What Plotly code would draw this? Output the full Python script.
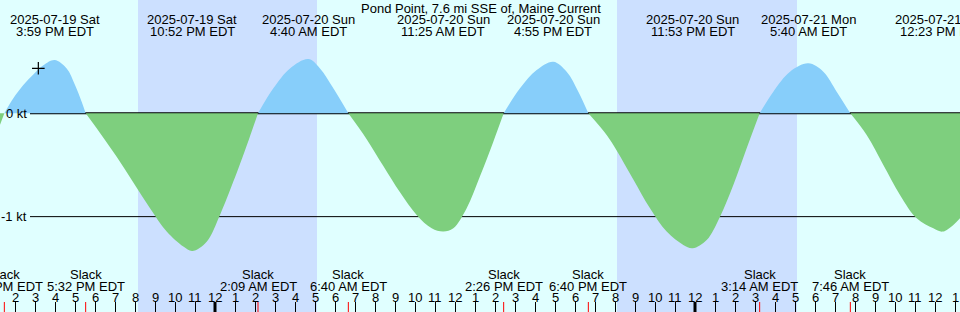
import plotly.graph_objects as go

TITLE = "Pond Point, 7.6 mi SSE of, Maine Current"
X_START = "2025-07-19 13:15"
X_END = "2025-07-21 13:15"
Y_RANGE = [-1.923, 1.097]

# current speed readings (knots, + flood / - ebb)
CURVE_TIMES = [
    "2025-07-19 13:15", "2025-07-19 13:28", "2025-07-19 13:55", "2025-07-19 14:25",
    "2025-07-19 14:55", "2025-07-19 15:25", "2025-07-19 15:59", "2025-07-19 16:35",
    "2025-07-19 17:00", "2025-07-19 17:20", "2025-07-19 17:32", "2025-07-19 18:15",
    "2025-07-19 19:05", "2025-07-19 19:55", "2025-07-19 20:45", "2025-07-19 21:35",
    "2025-07-19 22:25", "2025-07-19 22:52", "2025-07-19 23:35", "2025-07-20 00:15",
    "2025-07-20 00:55", "2025-07-20 01:15", "2025-07-20 01:42", "2025-07-20 02:09",
    "2025-07-20 02:55", "2025-07-20 03:45", "2025-07-20 04:40", "2025-07-20 05:15",
    "2025-07-20 05:55", "2025-07-20 06:40", "2025-07-20 07:35", "2025-07-20 08:25",
    "2025-07-20 09:15", "2025-07-20 10:05", "2025-07-20 10:50", "2025-07-20 11:25",
    "2025-07-20 11:55", "2025-07-20 12:35", "2025-07-20 13:15", "2025-07-20 13:55",
    "2025-07-20 14:26", "2025-07-20 15:15", "2025-07-20 16:05", "2025-07-20 16:55",
    "2025-07-20 17:35", "2025-07-20 18:10", "2025-07-20 18:40", "2025-07-20 19:35",
    "2025-07-20 20:05", "2025-07-20 20:55", "2025-07-20 21:45", "2025-07-20 22:35",
    "2025-07-20 23:25", "2025-07-20 23:53", "2025-07-21 00:35", "2025-07-21 01:15",
    "2025-07-21 01:55", "2025-07-21 02:35", "2025-07-21 03:14", "2025-07-21 03:55",
    "2025-07-21 04:45", "2025-07-21 05:40", "2025-07-21 06:25", "2025-07-21 07:05",
    "2025-07-21 07:46", "2025-07-21 08:35", "2025-07-21 09:25", "2025-07-21 10:15",
    "2025-07-21 11:05", "2025-07-21 11:55", "2025-07-21 12:23", "2025-07-21 12:55",
    "2025-07-21 13:15",
]
CURVE_KT = [
    -0.11, 0.0, 0.145, 0.274,
    0.375, 0.465, 0.516, 0.435,
    0.274, 0.113, 0.0, -0.19,
    -0.42, -0.67, -0.919, -1.145,
    -1.29, -1.332, -1.242, -0.984,
    -0.661, -0.49, -0.25, 0.0,
    0.242, 0.435, 0.526, 0.435,
    0.242, 0.0, -0.25, -0.51,
    -0.765, -0.984, -1.113, -1.145,
    -1.113, -0.919, -0.61, -0.274,
    0.0, 0.242, 0.419, 0.50,
    0.403, 0.21, 0.0, -0.21,
    -0.36, -0.64, -0.919, -1.145,
    -1.274, -1.306, -1.226, -1.0,
    -0.694, -0.339, 0.0, 0.21,
    0.403, 0.484, 0.403, 0.21,
    0.0, -0.21, -0.5, -0.79,
    -1.016, -1.113, -1.145, -1.08,
    -1.016,
]

MAX_TIMES = ["2025-07-19 15:59", "2025-07-19 22:52", "2025-07-20 04:40", "2025-07-20 11:25",
             "2025-07-20 16:55", "2025-07-20 23:53", "2025-07-21 05:40", "2025-07-21 12:23"]
MAX_DATE_LABELS = ["2025-07-19 Sat", "2025-07-19 Sat", "2025-07-20 Sun", "2025-07-20 Sun",
                   "2025-07-20 Sun", "2025-07-20 Sun", "2025-07-21 Mon", "2025-07-21 Mon"]
MAX_TIME_LABELS = ["3:59 PM EDT", "10:52 PM EDT", "4:40 AM EDT", "11:25 AM EDT",
                   "4:55 PM EDT", "11:53 PM EDT", "5:40 AM EDT", "12:23 PM EDT"]

SLACK_TIMES = ["2025-07-19 13:28", "2025-07-19 17:32", "2025-07-20 02:09", "2025-07-20 06:40",
               "2025-07-20 14:26", "2025-07-20 18:40", "2025-07-21 03:14", "2025-07-21 07:46"]
SLACK_LABELS = ["1:28 PM EDT", "5:32 PM EDT", "2:09 AM EDT", "6:40 AM EDT",
                "2:26 PM EDT", "6:40 PM EDT", "3:14 AM EDT", "7:46 AM EDT"]

NIGHT_START = ["2025-07-19 20:09", "2025-07-20 20:06"]
NIGHT_END = ["2025-07-20 05:06", "2025-07-21 05:06"]
MIDNIGHTS = ["2025-07-20 00:00", "2025-07-21 00:00"]

HOUR_TICKS = (
    [f"2025-07-19 {h:02d}:00" for h in range(14, 24)]
    + [f"2025-07-20 {h:02d}:00" for h in range(0, 24)]
    + [f"2025-07-21 {h:02d}:00" for h in range(0, 14)]
)
HOUR_LABELS = (
    ["2", "3", "4", "5", "6", "7", "8", "9", "10", "11"]
    + ["12", "1", "2", "3", "4", "5", "6", "7", "8", "9", "10", "11",
       "12", "1", "2", "3", "4", "5", "6", "7", "8", "9", "10", "11"]
    + ["12", "1", "2", "3", "4", "5", "6", "7", "8", "9", "10", "11", "12", "1"]
)

LEVEL_VALUES = [0, -1]
LEVEL_LABELS = ["0 kt", "-1 kt"]

CROSS_TIME = ["2025-07-19 15:10"]
CROSS_KT = [0.436]

DAY_BG = "#e0ffff"
NIGHT_BG = "#cce0ff"
FLOOD = "#87cefa"
EBB = "#7ecf7e"
FONT = dict(family="Liberation Sans", size=13, color="black")
H = 312.0

fig = go.Figure()

# split the curve into flood / ebb lobes at slack (zero) points
lobes = []
cur = [0]
for i in range(1, len(CURVE_KT)):
    cur.append(i)
    if CURVE_KT[i] == 0 and i != len(CURVE_KT) - 1:
        lobes.append(cur)
        cur = [i]
lobes.append(cur)

for lobe in lobes:
    xs = [CURVE_TIMES[i] for i in lobe]
    ys = [CURVE_KT[i] for i in lobe]
    positive = sum(ys) > 0
    fig.add_trace(go.Scatter(
        x=xs, y=ys, mode="lines", fill="tozeroy",
        line=dict(width=0, shape="spline", smoothing=1.0),
        fillcolor=FLOOD if positive else EBB,
        hoverinfo="skip", showlegend=False,
    ))

fig.add_trace(go.Scatter(
    x=CROSS_TIME, y=CROSS_KT, mode="markers",
    marker=dict(symbol="cross-thin", size=9, line=dict(width=1.2, color="black")),
    showlegend=False, hoverinfo="skip",
))

shapes = []
for s, e in zip(NIGHT_START, NIGHT_END):
    shapes.append(dict(type="rect", xref="x", yref="paper", x0=s, x1=e, y0=0, y1=1,
                       fillcolor=NIGHT_BG, line=dict(width=0), layer="below"))
for v in LEVEL_VALUES:
    shapes.append(dict(type="line", xref="paper", yref="y", x0=30 / 960, x1=1, y0=v, y1=v,
                       line=dict(color="black", width=2 if v == 0 else 1), layer="below"))
for m in MIDNIGHTS:
    shapes.append(dict(type="line", xref="x", yref="paper", x0=m, x1=m, y0=0, y1=10 / H,
                       line=dict(color="black", width=3), layer="above"))
for s in SLACK_TIMES:
    shapes.append(dict(type="line", xref="x", yref="paper", x0=s, x1=s, y0=0, y1=10 / H,
                       line=dict(color="red", width=1), layer="above"))

ann = []
ann.append(dict(text=TITLE, xref="paper", yref="paper", x=480.5 / 960, y=1 - 8 / H,
                xanchor="center", yanchor="middle", showarrow=False, font=FONT))
for t, d, tl in zip(MAX_TIMES, MAX_DATE_LABELS, MAX_TIME_LABELS):
    ann.append(dict(text=d, xref="x", yref="paper", x=t, y=1 - 19.5 / H,
                    xanchor="center", yanchor="middle", showarrow=False, font=FONT))
    ann.append(dict(text=tl, xref="x", yref="paper", x=t, y=1 - 31.5 / H,
                    xanchor="center", yanchor="middle", showarrow=False, font=FONT))
for t, sl in zip(SLACK_TIMES, SLACK_LABELS):
    ann.append(dict(text="Slack", xref="x", yref="paper", x=t, y=1 - 274.5 / H,
                    xanchor="center", yanchor="middle", showarrow=False, font=FONT))
    ann.append(dict(text=sl, xref="x", yref="paper", x=t, y=1 - 286 / H,
                    xanchor="center", yanchor="middle", showarrow=False, font=FONT))
for t, hl in zip(HOUR_TICKS, HOUR_LABELS):
    ann.append(dict(text=hl, xref="x", yref="paper", x=t, y=1 - 297.5 / H,
                    xanchor="center", yanchor="middle", showarrow=False, font=FONT))
for v, lab in zip(LEVEL_VALUES, LEVEL_LABELS):
    ann.append(dict(text=lab, xref="paper", yref="y", x=28.5 / 960, y=v,
                    xanchor="right", yanchor="middle", showarrow=False, font=FONT))

fig.update_layout(
    width=960, height=312, autosize=False,
    margin=dict(l=0, r=0, t=0, b=0, pad=0),
    paper_bgcolor=DAY_BG, plot_bgcolor=DAY_BG,
    shapes=shapes, annotations=ann, showlegend=False,
    xaxis=dict(type="date", range=[X_START, X_END], showgrid=False, zeroline=False,
               showline=False, showticklabels=False, ticks="inside", ticklen=10,
               tickwidth=1, tickcolor="black", tick0="2025-07-19 14:00",
               dtick=3600000, fixedrange=True),
    yaxis=dict(range=Y_RANGE, visible=False, fixedrange=True),
)

fig.write_html("out.html")
